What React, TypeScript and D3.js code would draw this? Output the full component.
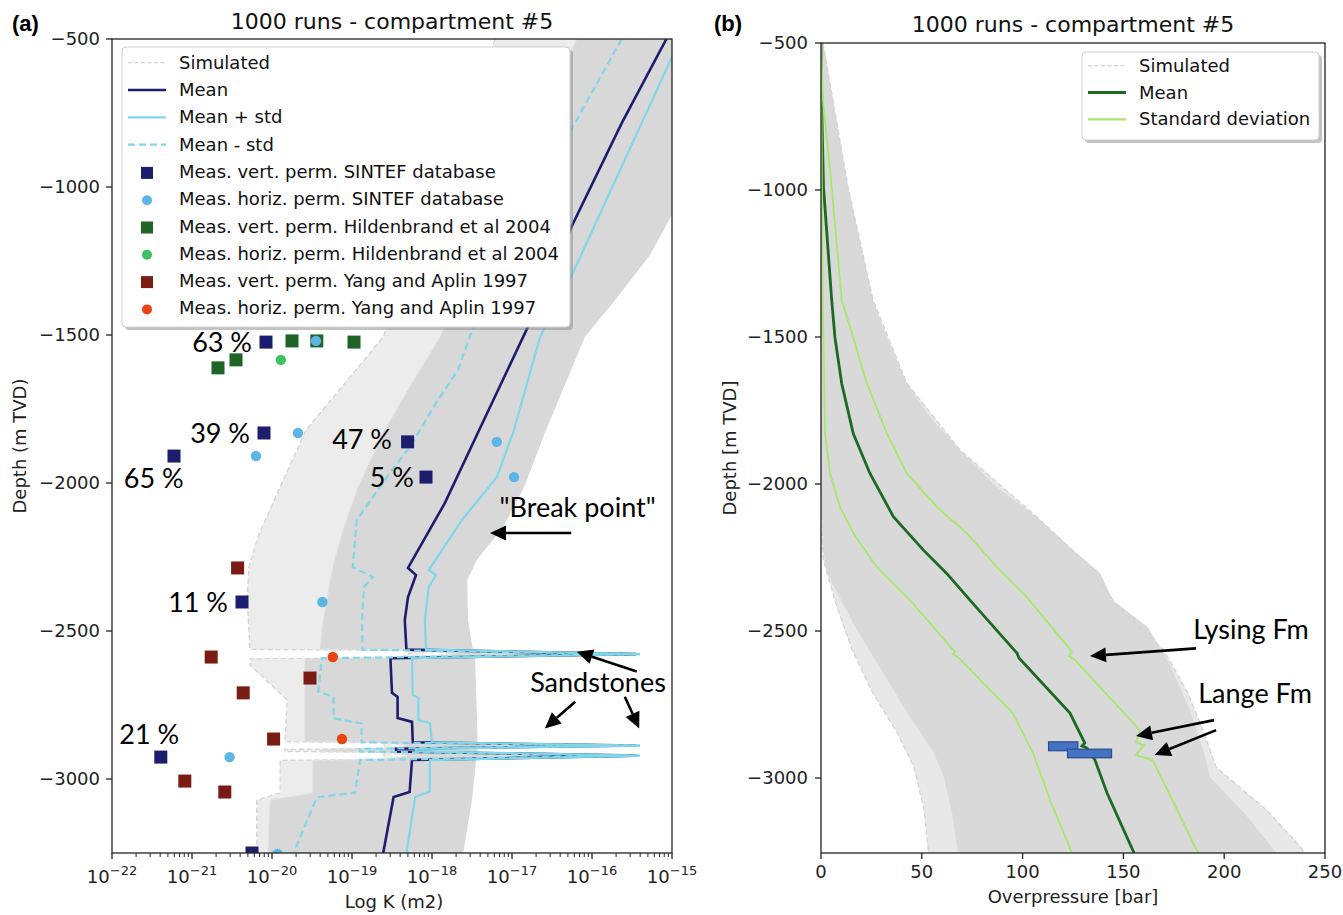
import React, { useEffect, useRef } from 'react';
import * as d3 from 'd3';

// ---------- panel (a): permeability. profiles are [depth (m), log10 K (m2)] ----------
const meanK = [
  [-500, -15.07], [-785, -15.63], [-1125, -16.24], [-1449, -16.76], [-1821, -17.41], [-2068, -17.84],
  [-2287, -18.3], [-2311, -18.2], [-2385, -18.3], [-2463, -18.34], [-2563, -18.32],
  [-2578, -15.45], [-2592, -18.52], [-2709, -18.5], [-2723, -18.43], [-2794, -18.43], [-2807, -18.25],
  [-2876, -18.24], [-2887, -15.45], [-2898, -18.45], [-2907, -18.45], [-2921, -15.45], [-2936, -18.25],
  [-3044, -18.28], [-3061, -18.48], [-3250, -18.61],
];
const meanPlusStdK = [
  [-500, -14.9], [-649, -15.15], [-1291, -16.24], [-1507, -16.65], [-1821, -16.975], [-1980, -17.19],
  [-2125, -17.625], [-2294, -18.04], [-2311, -17.95], [-2351, -18.04], [-2463, -18.09], [-2563, -18.075],
  [-2578, -15.4], [-2592, -18.25], [-2716, -18.24], [-2726, -18.17], [-2801, -18.17], [-2811, -18.025],
  [-2876, -18.0], [-2887, -15.4], [-2898, -18.2], [-2907, -18.2], [-2921, -15.4], [-2936, -18.025],
  [-3043, -18.03], [-3060, -18.21], [-3250, -18.32],
];
const meanMinusStdK = [
  [-500, -15.63], [-797, -16.24], [-1493, -17.51], [-1618, -17.675], [-1730, -17.95], [-1878, -18.275],
  [-1956, -18.5], [-2125, -18.94], [-2284, -18.99], [-2318, -18.74], [-2351, -18.85], [-2463, -18.875],
  [-2563, -18.87], [-2578, -15.4], [-2592, -19.38], [-2705, -19.42], [-2722, -19.23], [-2795, -19.23],
  [-2812, -18.88], [-2876, -18.88], [-2887, -15.4], [-2898, -18.9], [-2907, -18.9], [-2921, -15.4],
  [-2936, -18.9], [-3046, -18.96], [-3062, -19.44], [-3250, -19.73],
];
// envelope of the 1000 simulated runs: [depth, left log K, right log K]
const simCoreK = [
  [-500, -16.19, -14.9], [-1044, -17.11, -14.9], [-1230, -17.43, -15.275], [-1382, -17.69, -15.71],
  [-1507, -17.9, -16.09], [-1676, -18.28, -16.35], [-1821, -18.59, -16.575], [-2014, -18.925, -16.85],
  [-2149, -19.1, -17.11], [-2260, -19.22, -17.44], [-2328, -19.27, -17.56], [-2463, -19.36, -17.55],
  [-2562, -19.4, -17.49], [-2566, -18.2, -17.4], [-2578, -17.7, -15.35], [-2590, -18.4, -17.45],
  [-2594, -19.59, -17.46], [-2874, -19.59, -17.43], [-2877, -18.6, -17.4], [-2887, -18.3, -15.35],
  [-2897, -18.6, -17.4], [-2900, -19.4, -17.43], [-2907, -19.4, -17.43], [-2910, -18.6, -17.4],
  [-2921, -18.3, -15.35], [-2933, -18.6, -17.42], [-2937, -19.49, -17.45], [-3047, -19.49, -17.49],
  [-3071, -20.025, -17.5], [-3250, -20.05, -17.61],
];
const simFringeK = [
  [-500, -17.21, -15.5], [-1507, -18.61, -17.0], [-1821, -19.575, -17.5], [-2014, -19.9, -17.8],
  [-2182, -20.175, -18.0], [-2284, -20.29, -18.0], [-2395, -20.31, -18.0], [-2562, -20.275, -18.0],
  [-2566, -18.2, -18.0], [-2590, -18.4, -18.2], [-2594, -20.275, -18.2], [-2615, -20.275, -18.2],
  [-2733, -19.81, -18.2], [-2874, -19.84, -18.2], [-2877, -18.6, -18.5], [-2897, -18.6, -18.5],
  [-2900, -19.84, -18.5], [-2907, -19.84, -18.5], [-2910, -18.6, -18.5], [-2933, -18.6, -18.5],
  [-2937, -19.9, -18.5], [-3047, -19.9, -18.5], [-3071, -20.19, -18.5], [-3250, -20.19, -18.5],
];
// measurements: [depth, log10 K]
const sintefVert = [[-1524, -20.075], [-1831, -20.1], [-1909, -21.225], [-1861, -18.305], [-1980, -18.075], [-2402, -20.375], [-2926, -21.39], [-3250, -20.25]];
const sintefHoriz = [[-1520, -19.45], [-1831, -19.675], [-1909, -20.2], [-1861, -17.19], [-1980, -16.975], [-2402, -19.37], [-2926, -20.53], [-3253, -19.93]];
const hildVert = [[-1520, -19.75], [-1520, -19.44], [-1524, -18.975], [-1611, -20.675], [-1584, -20.45]];
const hildHoriz = [[-1584, -19.89]];
const yangVert = [[-2287, -20.43], [-2588, -20.76], [-2659, -19.525], [-2709, -20.36], [-2865, -19.98], [-3007, -21.09], [-3044, -20.59]];
const yangHoriz = [[-2588, -19.24], [-2865, -19.125]];
// [text, depth, log10 K of the text's right end]
const pctLabels = [
  ['63 %', -1557, -20.25], ['39 %', -1864, -20.275], ['65 %', -2017, -21.105], ['47 %', -1886, -18.5],
  ['5 %', -2012, -18.225], ['11 %', -2435, -20.55], ['21 %', -2882, -21.16],
];
// arrows: [tail depth, tail log K, head depth, head log K]
const arrowsA = [[-2169, -16.26, -2169, -17.275], [-2637, -15.44, -2570, -16.19], [-2739, -16.21, -2829, -16.59], [-2722, -15.59, -2829, -15.41]];
const notesA = [['"Break point"', -2115, -16.18], ['Sandstones', -2706, -15.925]];

const kDecades = [-22, -21, -20, -19, -18, -17, -16, -15];
const depthTicks = [-500, -1000, -1500, -2000, -2500, -3000];

// ---------- panel (b): overpressure. profiles are [depth (m), bar] ----------
const opMean = [
  [-500, 0], [-762, 0.5], [-990, 1.24], [-1374, 5.3], [-1503, 6.94], [-1658, 10.27], [-1828, 16], [-1964, 24.3],
  [-2111, 35.9], [-2224, 50.7], [-2304, 62.35], [-2395, 73.9], [-2575, 97.2], [-2592, 98.2], [-2779, 123.5],
  [-2881, 130.85], [-2891, 129.5], [-2898, 132], [-2939, 135.9], [-3051, 141.9], [-3255, 155.3],
];
const opStdLow = [
  [-500, 0], [-1374, 0.84], [-1827, 1.98], [-1963, 4.46], [-2078, 9.4], [-2167, 16], [-2282, 27.6],
  [-2395, 44.1], [-2571, 66.5], [-2578, 65.5], [-2592, 68.5], [-2779, 95.1], [-2915, 105.2], [-3075, 113.6], [-3255, 124.5],
];
const opStdHigh = [
  [-500, 0], [-694, 1], [-990, 5.3], [-1374, 10.27], [-1502, 16], [-1656, 22.67], [-1827, 32.6], [-1963, 42.5],
  [-2078, 57.4], [-2167, 72.3], [-2282, 87.15], [-2384, 102], [-2571, 124.5], [-2585, 123], [-2599, 126],
  [-2837, 158.2], [-2878, 156.25], [-2888, 160.2], [-2922, 156.25], [-2939, 164.5], [-3051, 172.6], [-3255, 187],
];
const opCore = [
  [-500, 0, 1], [-990, 0, 13.4], [-1374, 0, 25.8], [-1502, 0, 32.6], [-1656, 0, 42.5], [-1772, 0, 54.1],
  [-1884, 0, 68.9], [-2010, 0, 87.15], [-2112, 0.5, 107], [-2224, 1, 125], [-2303, 3, 138.4], [-2395, 10, 144.8],
  [-2486, 17, 162], [-2599, 27, 172], [-2769, 42, 183], [-2915, 56, 190], [-2997, 61, 193], [-3119, 65, 210], [-3255, 68, 226],
];
const opFringe = [
  [-500, 0, 1], [-990, 0, 13.4], [-1374, 0, 25.8], [-1656, 0, 42.5], [-1884, 0, 68.9], [-2112, 0, 107],
  [-2259, 1.2, 130], [-2405, 7.3, 146], [-2565, 15.5, 170], [-2711, 25.7, 182], [-2847, 37.9, 190],
  [-2963, 46.1, 196], [-3109, 51.2, 221], [-3235, 53, 238], [-3255, 53.3, 240],
];
// measured pressure boxes: [top depth, bottom depth, min bar, max bar]
const pressureBoxes = [[-2877, -2907, 112.9, 127.4], [-2902, -2931, 122.3, 144.1]];
const arrowsB = [[-2559, 186, -2585, 133.4], [-2803, 195, -2857, 156.25], [-2837, 196, -2922, 165.5]];
const notesB = [['Lysing Fm', -2527, 213.3], ['Lange Fm', -2745, 215.3]];
const barTicks = [0, 50, 100, 150, 200, 250];

const navy = '#1d1d6e';
const cyan = '#7fd7e8';
const simGray = '#d3d3d3';
const axisFont = '"DejaVu Sans", sans-serif';
const noteFont = 'Lato, "Open Sans", sans-serif';
const fs = 18;

const drawArrow = (g, x1, y1, x2, y2) => {
  const a = Math.atan2(y2 - y1, x2 - x1);
  const len = 16, hw = 7.5;
  const bx = x2 - len * Math.cos(a), by = y2 - len * Math.sin(a);
  g.append('line').attr('x1', x1).attr('y1', y1).attr('x2', bx).attr('y2', by)
    .attr('stroke', '#000').attr('stroke-width', 2.6);
  g.append('path')
    .attr('d', `M${x2},${y2}L${bx + hw * Math.sin(a)},${by - hw * Math.cos(a)}L${bx - hw * Math.sin(a)},${by + hw * Math.cos(a)}Z`)
    .attr('fill', '#000');
};

const drawLegend = (g, x, y, w, h, rowY, step, entries) => {
  g.append('rect').attr('x', x + 3).attr('y', y + 3).attr('width', w).attr('height', h).attr('rx', 4)
    .attr('fill', '#888').attr('opacity', 0.5);
  g.append('rect').attr('x', x).attr('y', y).attr('width', w).attr('height', h).attr('rx', 4)
    .attr('fill', '#fff').attr('stroke', '#d0d0d0');
  entries.forEach((e, i) => {
    const cy = rowY + i * step;
    const hx = x + 6;
    if (e.type === 'line') {
      g.append('line').attr('x1', hx).attr('x2', hx + 38).attr('y1', cy).attr('y2', cy)
        .attr('stroke', e.color).attr('stroke-width', e.w).attr('stroke-dasharray', e.dash || null);
    } else if (e.type === 'square') {
      g.append('rect').attr('x', hx + 19 - 6).attr('y', cy - 5).attr('width', 12).attr('height', 12).attr('fill', e.color);
    } else {
      g.append('circle').attr('cx', hx + 19).attr('cy', cy + 1).attr('r', 5).attr('fill', e.color);
    }
    g.append('text').attr('x', x + 57).attr('y', cy + 6).text(e.label)
      .attr('font-family', axisFont).attr('font-size', fs).attr('fill', '#111');
  });
};

const App = () => {
  const svgRef = useRef(null);

  useEffect(() => {
    const svg = d3.select(svgRef.current);
    svg.selectAll('*').remove();
    const defs = svg.append('defs');

    // ===================== panel (a) =====================
    const xA = d3.scaleLog().domain([1e-22, 1e-15]).range([112, 672]);
    const kx = (v) => xA(Math.pow(10, v));
    const yA = d3.scaleLinear().domain([-3250, -500]).range([853, 39]);
    defs.append('clipPath').attr('id', 'clipA').append('rect')
      .attr('x', 112).attr('y', 39).attr('width', 560).attr('height', 814);

    const gA = svg.append('g');
    const plotA = gA.append('g').attr('clip-path', 'url(#clipA)');
    const envA = d3.area().y((d) => yA(d[0])).x0((d) => kx(d[1])).x1((d) => kx(d[2]));
    plotA.append('path').attr('d', envA(simFringeK)).attr('fill', '#ececec');
    plotA.append('path').attr('d', envA(simCoreK)).attr('fill', '#d8d8d8');
    const edgeA = (idx) => d3.line().x((d) => kx(d[idx])).y((d) => yA(d[0]));
    plotA.append('path').attr('d', edgeA(1)(simFringeK)).attr('fill', 'none')
      .attr('stroke', simGray).attr('stroke-width', 1.3).attr('stroke-dasharray', '5,3');
    plotA.append('path').attr('d', edgeA(1)(simCoreK)).attr('fill', 'none')
      .attr('stroke', '#e2e2e2').attr('stroke-width', 1.3).attr('stroke-dasharray', '5,3');

    const lineA = d3.line().x((d) => kx(d[1])).y((d) => yA(d[0]));
    plotA.append('path').attr('d', lineA(meanK)).attr('fill', 'none').attr('stroke', navy).attr('stroke-width', 2.6);
    plotA.append('path').attr('d', lineA(meanPlusStdK)).attr('fill', 'none').attr('stroke', cyan).attr('stroke-width', 2.2);
    plotA.append('path').attr('d', lineA(meanMinusStdK)).attr('fill', 'none').attr('stroke', cyan)
      .attr('stroke-width', 2.2).attr('stroke-dasharray', '7,4');

    const squares = (data, color) => plotA.selectAll(null).data(data).enter().append('rect')
      .attr('x', (d) => kx(d[1]) - 6.5).attr('y', (d) => yA(d[0]) - 6.5)
      .attr('width', 13).attr('height', 13).attr('fill', color);
    const dots = (data, color) => plotA.selectAll(null).data(data).enter().append('circle')
      .attr('cx', (d) => kx(d[1])).attr('cy', (d) => yA(d[0])).attr('r', 5.2).attr('fill', color);
    squares(sintefVert, navy);
    squares(hildVert, '#1e6427');
    squares(yangVert, '#7a1b14');
    dots(sintefHoriz, '#5db5e6');
    dots(hildHoriz, '#3cc160');
    dots(yangHoriz, '#e84513');

    // frame and ticks
    gA.append('rect').attr('x', 112).attr('y', 39).attr('width', 560).attr('height', 814)
      .attr('fill', 'none').attr('stroke', '#222').attr('stroke-width', 1.3);
    kDecades.forEach((k) => {
      const x = kx(k);
      gA.append('line').attr('x1', x).attr('x2', x).attr('y1', 853).attr('y2', 859).attr('stroke', '#222').attr('stroke-width', 1.3);
      const t = gA.append('text').attr('x', x).attr('y', 883).attr('text-anchor', 'middle')
        .attr('font-family', axisFont).attr('font-size', fs).attr('fill', '#222');
      t.append('tspan').text('10');
      t.append('tspan').attr('dy', -8).attr('font-size', 13).text(`\u2212${Math.abs(k)}`);
      if (k < -15) {
        d3.range(2, 10).forEach((m) => {
          const xm = xA(m * Math.pow(10, k));
          gA.append('line').attr('x1', xm).attr('x2', xm).attr('y1', 853).attr('y2', 857)
            .attr('stroke', '#222').attr('stroke-width', 1);
        });
      }
    });
    depthTicks.forEach((d) => {
      const y = yA(d);
      gA.append('line').attr('x1', 106).attr('x2', 112).attr('y1', y).attr('y2', y).attr('stroke', '#222').attr('stroke-width', 1.3);
      gA.append('text').attr('x', 100).attr('y', y + 6).attr('text-anchor', 'end')
        .attr('font-family', axisFont).attr('font-size', fs).attr('fill', '#222').text(d3.format('d')(d));
    });
    gA.append('text').attr('x', 394).attr('y', 908).attr('text-anchor', 'middle')
      .attr('font-family', axisFont).attr('font-size', fs).attr('fill', '#222').text('Log K (m2)');
    gA.append('text').attr('transform', 'translate(26,446) rotate(-90)').attr('text-anchor', 'middle')
      .attr('font-family', axisFont).attr('font-size', fs).attr('fill', '#222').text('Depth (m TVD)');
    gA.append('text').attr('x', 392).attr('y', 29).attr('text-anchor', 'middle')
      .attr('font-family', axisFont).attr('font-size', 22).attr('fill', '#111').text('1000 runs - compartment #5');

    drawLegend(gA, 122, 47, 448, 280, 62.7, 27.3, [
      { label: 'Simulated', type: 'line', color: simGray, w: 1.3, dash: '4,2.5' },
      { label: 'Mean', type: 'line', color: navy, w: 2.6 },
      { label: 'Mean + std', type: 'line', color: cyan, w: 2.2 },
      { label: 'Mean - std', type: 'line', color: cyan, w: 2.2, dash: '7,4' },
      { label: 'Meas. vert. perm. SINTEF database', type: 'square', color: navy },
      { label: 'Meas. horiz. perm. SINTEF database', type: 'dot', color: '#5db5e6' },
      { label: 'Meas. vert. perm. Hildenbrand et al 2004', type: 'square', color: '#1e6427' },
      { label: 'Meas. horiz. perm. Hildenbrand et al 2004', type: 'dot', color: '#3cc160' },
      { label: 'Meas. vert. perm. Yang and Aplin 1997', type: 'square', color: '#7a1b14' },
      { label: 'Meas. horiz. perm. Yang and Aplin 1997', type: 'dot', color: '#e84513' },
    ]);

    pctLabels.forEach(([t, d, k]) => {
      gA.append('text').attr('x', kx(k)).attr('y', yA(d)).attr('text-anchor', 'end')
        .attr('font-family', noteFont).attr('font-size', 27).attr('fill', '#000').text(t);
    });
    notesA.forEach(([t, d, k]) => {
      gA.append('text').attr('x', kx(k)).attr('y', yA(d)).attr('text-anchor', 'middle')
        .attr('font-family', noteFont).attr('font-size', 27).attr('fill', '#000').text(t);
    });
    arrowsA.forEach(([d1, k1, d2, k2]) => drawArrow(gA, kx(k1), yA(d1), kx(k2), yA(d2)));

    gA.append('text').attr('x', 12).attr('y', 31).attr('font-family', '"Liberation Sans", Arial, sans-serif')
      .attr('font-weight', 'bold').attr('font-size', 22).text('(a)');

    // ===================== panel (b) =====================
    const xB = d3.scaleLinear().domain([0, 250]).range([821, 1325]);
    const yB = d3.scaleLinear().domain([-3255, -500]).range([853, 43]);
    defs.append('clipPath').attr('id', 'clipB').append('rect')
      .attr('x', 821).attr('y', 43).attr('width', 504).attr('height', 810);
    const gB = svg.append('g');
    const plotB = gB.append('g').attr('clip-path', 'url(#clipB)');
    const envB = d3.area().y((d) => yB(d[0])).x0((d) => xB(d[1])).x1((d) => xB(d[2]));
    plotB.append('path').attr('d', envB(opFringe)).attr('fill', '#e8e8e8');
    plotB.append('path').attr('d', envB(opCore)).attr('fill', '#d9d9d9');
    const edgeB = (idx) => d3.line().x((d) => xB(d[idx])).y((d) => yB(d[0]));
    plotB.append('path').attr('d', edgeB(2)(opFringe)).attr('fill', 'none')
      .attr('stroke', simGray).attr('stroke-width', 1.3).attr('stroke-dasharray', '5,3');
    plotB.append('path').attr('d', edgeB(1)(opFringe)).attr('fill', 'none')
      .attr('stroke', simGray).attr('stroke-width', 1.3).attr('stroke-dasharray', '5,3');

    const lineB = d3.line().x((d) => xB(d[1])).y((d) => yB(d[0]));
    plotB.append('path').attr('d', lineB(opMean)).attr('fill', 'none').attr('stroke', '#1c6a22').attr('stroke-width', 2.8);
    plotB.append('path').attr('d', lineB(opStdLow)).attr('fill', 'none').attr('stroke', '#a5e86a').attr('stroke-width', 1.8);
    plotB.append('path').attr('d', lineB(opStdHigh)).attr('fill', 'none').attr('stroke', '#a5e86a').attr('stroke-width', 1.8);
    plotB.selectAll(null).data(pressureBoxes).enter().append('rect')
      .attr('x', (d) => xB(d[2])).attr('y', (d) => yB(d[0]))
      .attr('width', (d) => xB(d[3]) - xB(d[2])).attr('height', (d) => yB(d[1]) - yB(d[0]))
      .attr('fill', '#4472c4').attr('stroke', '#2f4f8f').attr('stroke-width', 1.3);

    gB.append('rect').attr('x', 821).attr('y', 43).attr('width', 504).attr('height', 810)
      .attr('fill', 'none').attr('stroke', '#222').attr('stroke-width', 1.3);
    barTicks.forEach((b) => {
      const x = xB(b);
      gB.append('line').attr('x1', x).attr('x2', x).attr('y1', 853).attr('y2', 859).attr('stroke', '#222').attr('stroke-width', 1.3);
      gB.append('text').attr('x', x).attr('y', 878).attr('text-anchor', 'middle')
        .attr('font-family', axisFont).attr('font-size', fs).attr('fill', '#222').text(b);
    });
    depthTicks.forEach((d) => {
      const y = yB(d);
      gB.append('line').attr('x1', 815).attr('x2', 821).attr('y1', y).attr('y2', y).attr('stroke', '#222').attr('stroke-width', 1.3);
      gB.append('text').attr('x', 808).attr('y', y + 6).attr('text-anchor', 'end')
        .attr('font-family', axisFont).attr('font-size', fs).attr('fill', '#222').text(d3.format('d')(d));
    });
    gB.append('text').attr('x', 1073).attr('y', 903).attr('text-anchor', 'middle')
      .attr('font-family', axisFont).attr('font-size', fs).attr('fill', '#222').text('Overpressure [bar]');
    gB.append('text').attr('transform', 'translate(736,448) rotate(-90)').attr('text-anchor', 'middle')
      .attr('font-family', axisFont).attr('font-size', fs).attr('fill', '#222').text('Depth [m TVD]');
    gB.append('text').attr('x', 1073).attr('y', 32).attr('text-anchor', 'middle')
      .attr('font-family', axisFont).attr('font-size', 22).attr('fill', '#111').text('1000 runs - compartment #5');

    drawLegend(gB, 1082, 52, 237, 88, 65.7, 26.8, [
      { label: 'Simulated', type: 'line', color: simGray, w: 1.3, dash: '4,2.5' },
      { label: 'Mean', type: 'line', color: '#1c6a22', w: 2.8 },
      { label: 'Standard deviation', type: 'line', color: '#a5e86a', w: 2.2 },
    ]);

    notesB.forEach(([t, d, b]) => {
      gB.append('text').attr('x', xB(b)).attr('y', yB(d)).attr('text-anchor', 'middle')
        .attr('font-family', noteFont).attr('font-size', 27).attr('fill', '#000').text(t);
    });
    arrowsB.forEach(([d1, b1, d2, b2]) => drawArrow(gB, xB(b1), yB(d1), xB(b2), yB(d2)));

    gB.append('text').attr('x', 714).attr('y', 31).attr('font-family', '"Liberation Sans", Arial, sans-serif')
      .attr('font-weight', 'bold').attr('font-size', 22).text('(b)');
  }, []);

  return (
    <svg ref={svgRef} width={1343} height={915}
      style={{ position: 'absolute', left: 0, top: 0, background: '#fff' }} />
  );
};

export default App;
